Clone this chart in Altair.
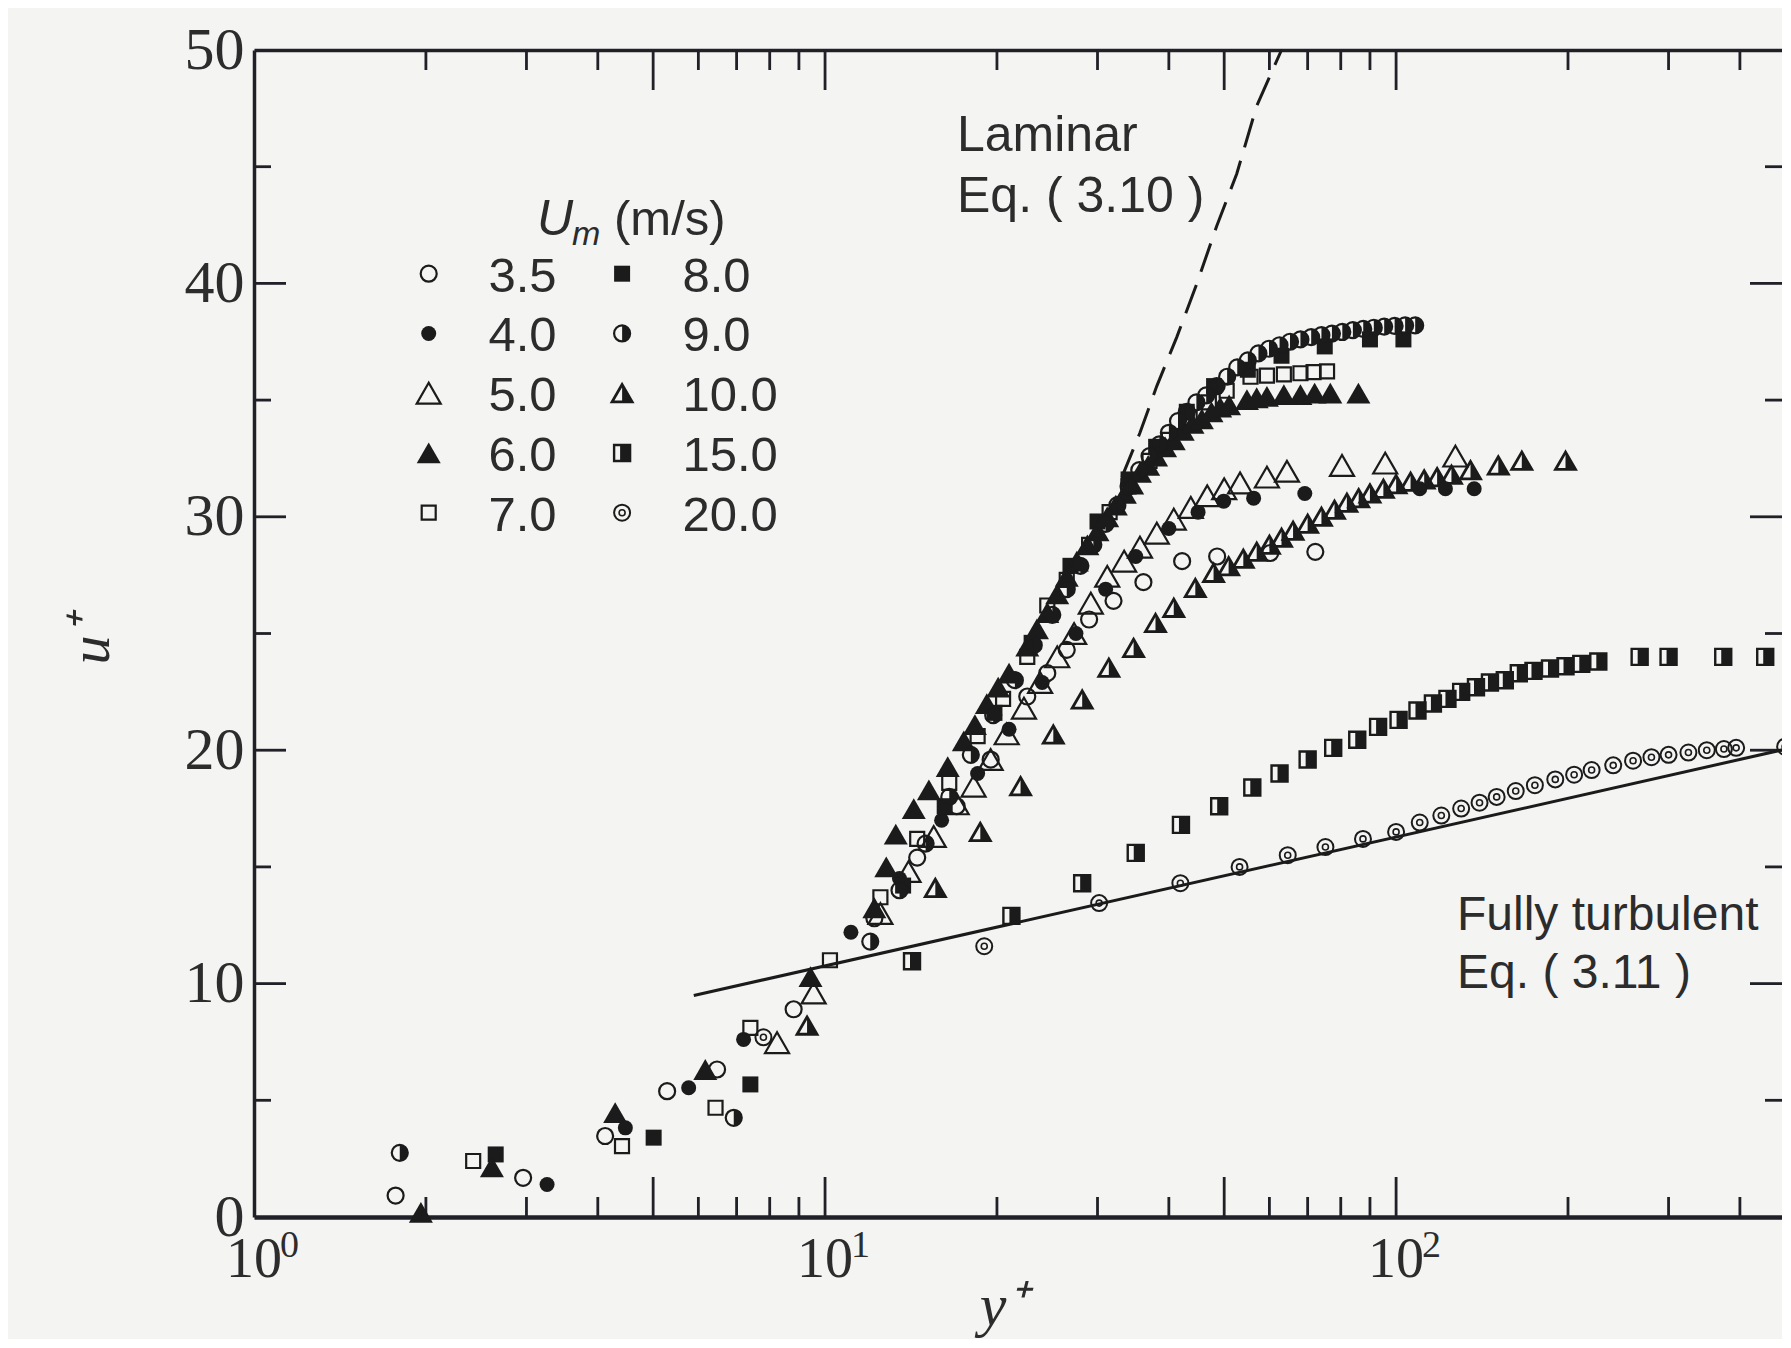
import altair as alt
import pandas as pd

# ------------------------------------------------------------------ data
um_labels = ["3.5", "4.0", "5.0", "6.0", "7.0", "8.0", "9.0", "10.0", "15.0", "20.0"]

yp_35 = [1.77, 2.96, 4.12, 5.29, 6.47, 8.81, 12.2, 14.5, 17.0, 19.5, 22.6, 24.5, 26.5, 29.0, 32.0, 36.1, 42.2, 48.6, 60.2, 72.2]
u_35 = [0.92, 1.68, 3.47, 5.39, 6.32, 8.90, 12.8, 15.4, 17.6, 19.6, 22.3, 23.3, 24.3, 25.6, 26.4, 27.2, 28.1, 28.3, 28.45, 28.5]

yp_40 = [3.26, 4.47, 5.77, 7.20, 11.1, 13.5, 16.0, 18.5, 21.0, 24.0, 27.5, 31.0, 35.0, 40.0, 45.0, 49.9, 56.3, 69.2, 110, 122, 137]
u_40 = [1.39, 3.82, 5.54, 7.61, 12.2, 14.5, 17.0, 19.0, 20.9, 22.9, 25.0, 26.9, 28.3, 29.5, 30.2, 30.67, 30.8, 31.0, 31.2, 31.2, 31.2]

yp_50 = [8.24, 9.55, 12.5, 14.0, 15.5, 17.0, 18.2, 19.5, 20.8, 22.3, 23.8, 25.5, 27.3, 29.2, 31.2, 33.4, 35.6, 38.1, 40.8, 43.7, 46.7, 50.0, 53.3, 59.4, 64.4, 80.4, 95.7, 127]
u_50 = [7.47, 9.6, 13.0, 14.8, 16.3, 17.7, 18.46, 19.6, 20.7, 21.8, 22.9, 24.0, 25.0, 26.3, 27.45, 28.1, 28.7, 29.3, 29.9, 30.4, 30.9, 31.2, 31.45, 31.7, 31.95, 32.2, 32.3, 32.6]

yp_60 = [1.96, 2.61, 4.29, 6.17, 9.43, 12.2, 12.8, 13.3, 14.3, 15.2, 16.4, 17.5, 18.3, 19.2, 20.1, 21.0, 22.6, 23.5, 24.5, 25.5,
         26.5, 27.6, 28.8, 30.0, 31.2, 32.3, 33.5, 34.5, 35.6, 36.8, 38.0, 39.4, 40.8, 42.3, 44.0, 45.7, 47.5, 49.2, 51.0, 54.8,
         57.0, 59.4, 63.6, 68.0, 72.0, 76.7, 85.9]
u_60 = [0.2, 2.15, 4.47, 6.32, 10.3, 13.25, 15.0, 16.4, 17.5, 18.3, 19.3, 20.4, 21.1, 22.0, 22.7, 23.3, 24.46, 25.2, 25.9, 26.7,
        27.45, 28.1, 28.8, 29.4, 30.0, 30.5, 31.0, 31.4, 31.9, 32.2, 32.6, 33.0, 33.3, 33.7, 34.0, 34.2, 34.5, 34.7, 34.8, 35.02,
        35.1, 35.16, 35.23, 35.23, 35.3, 35.3, 35.3]

yp_70 = [2.42, 4.41, 6.43, 7.40, 10.2, 12.5, 14.5, 16.5, 18.5, 20.5, 22.6, 24.5, 26.5, 29.0, 31.5, 34.0, 37.0, 40.0, 43.5, 47.0, 50.5, 55.6, 59.4, 63.6, 68.0, 71.7, 75.7]
u_70 = [2.40, 3.04, 4.68, 8.10, 11.0, 13.7, 16.2, 18.6, 20.6, 22.2, 24.0, 26.2, 27.3, 28.8, 30.2, 31.3, 32.4, 33.3, 34.2, 34.9, 35.4, 36.0, 36.05, 36.1, 36.15, 36.2, 36.23]

yp_80 = [2.65, 5.01, 7.40, 13.7, 16.2, 19.8, 23.0, 26.9, 30.0, 34.0, 38.0, 43.0, 48.0, 55.0, 63.0, 75.0, 90.0, 103]
u_80 = [2.68, 3.40, 5.68, 14.2, 17.6, 21.6, 24.6, 27.9, 29.8, 31.6, 33.0, 34.5, 35.6, 36.3, 36.9, 37.3, 37.6, 37.6]

yp_90 = [1.80, 6.92, 12.0, 13.5, 15.0, 16.5, 18.0, 19.7, 21.5, 23.2, 25.0, 26.5, 28.0, 29.5, 31.0, 32.5, 34.0, 35.5, 37.0, 38.5,
         40.0, 41.5, 43.0, 44.7, 46.5, 48.5, 50.6, 52.7, 55.0, 57.4, 59.9, 62.5, 65.2, 68.0, 71.0, 74.0, 77.2, 80.5, 84.0, 87.6,
         91.4, 95.3, 99.4, 103.7, 108]
u_90 = [2.75, 4.25, 11.8, 14.0, 16.0, 18.0, 19.8, 21.5, 23.0, 24.5, 25.8, 26.9, 27.9, 28.8, 29.7, 30.5, 31.3, 32.0, 32.6, 33.1,
        33.6, 34.1, 34.5, 34.9, 35.2, 35.6, 36.0, 36.4, 36.7, 37.0, 37.2, 37.35, 37.5, 37.6, 37.7, 37.78, 37.85, 37.92, 38.0, 38.05,
        38.1, 38.15, 38.18, 38.2, 38.2]

yp_100 = [9.3, 15.6, 18.7, 22.0, 25.1, 28.2, 31.4, 34.7, 37.9, 40.8, 44.5, 47.9, 50.9, 54, 57, 60, 63, 66, 70, 74,
          78, 82, 86, 90, 95, 100, 106, 112, 118, 125, 135, 151, 166, 198]
u_100 = [8.2, 14.1, 16.5, 18.46, 20.67, 22.17, 23.53, 24.38, 25.45, 26.1, 26.95, 27.6, 27.88, 28.2, 28.5, 28.8, 29.1, 29.4, 29.7, 30.0,
         30.3, 30.6, 30.8, 31.0, 31.2, 31.4, 31.5, 31.6, 31.7, 31.8, 32.0, 32.2, 32.4, 32.4]

yp_150 = [14.2, 21.2, 28.2, 35.0, 42.0, 49.0, 56.0, 62.5, 70.0, 77.6, 85.5, 93.0, 101, 109, 116, 123, 130, 138, 146, 155,
          164, 174, 186, 198, 211, 226, 267, 300, 374, 443]
u_150 = [10.96, 12.9, 14.3, 15.6, 16.8, 17.6, 18.4, 19.0, 19.6, 20.1, 20.45, 21.0, 21.3, 21.7, 22.0, 22.2, 22.5, 22.7, 22.9, 23.0,
         23.3, 23.4, 23.5, 23.6, 23.7, 23.8, 24.0, 24.0, 24.0, 24.0]

yp_200 = [7.8, 19.0, 30.2, 41.9, 53.2, 64.6, 75.2, 87.5, 100, 110, 120, 130, 140, 150, 162, 175, 190, 205, 220, 240,
          260, 280, 300, 325, 350, 375, 394, 480]
u_200 = [7.7, 11.6, 13.45, 14.3, 15.0, 15.5, 15.85, 16.2, 16.5, 16.9, 17.2, 17.5, 17.75, 18.0, 18.25, 18.5, 18.75, 18.95, 19.15, 19.35,
         19.55, 19.7, 19.8, 19.9, 20.0, 20.05, 20.1, 20.15]

laminar_yp = [33.1, 35.6, 38.1, 41.3, 44.8, 48.5, 52.6, 57.0, 63.0]
laminar_u = [31.7, 33.6, 35.6, 37.7, 40.0, 42.45, 44.7, 47.6, 50.0]

turb_yp = [5.89, 492.0]
turb_u = [9.49, 20.1]

x_ticks_minor = [2, 3, 4, 6, 7, 8, 9, 20, 30, 40, 60, 70, 80, 90, 200, 300, 400]
x_ticks_major = [5, 10, 50, 100]
u_ticks_minor = [5, 15, 25, 35, 45]
u_ticks_major = [10, 20, 30, 40]
x_label_values = [1, 10, 100]
x_label_base = ["10", "10", "10"]
x_label_exp = ["0", "1", "2"]
u_label_values = [0, 10, 20, 30, 40, 50]

legend_title = ["U", "m", "(m/s)"]
annotations = ["Laminar", "Eq. ( 3.10 )", "Fully turbulent", "Eq. ( 3.11 )"]
axis_titles = ["y\u207a", "u\u207a"]

series_yp = dict(zip(um_labels, [yp_35, yp_40, yp_50, yp_60, yp_70, yp_80, yp_90, yp_100, yp_150, yp_200]))
series_u = dict(zip(um_labels, [u_35, u_40, u_50, u_60, u_70, u_80, u_90, u_100, u_150, u_200]))

# ------------------------------------------------------------------ layout / style
W, H = 1528, 1167
INK = "#1b1b1b"
AX = "#202028"
TXT = "#2c2c2c"
SANS = "Liberation Sans"
SERIF = "Liberation Serif"

xs = alt.Scale(type="log", domain=[1, 474], nice=False)
ys = alt.Scale(domain=[0, 50], nice=False, zero=False)

HALF_CIRCLE = "M0,-1A1,1 0 0,1 0,1Z"
HALF_TRI = "M0,-0.866L1,0.866L0,0.866Z"
PART_SQ = "M-0.25,-1L1,-1L1,1L-0.25,1Z"

STY = {
    "3.5": [dict(shape="circle", size=256, filled=False, sw=2.2)],
    "4.0": [dict(shape="circle", size=225, filled=True, sw=0)],
    "5.0": [dict(shape="triangle-up", size=576, filled=False, sw=2.2)],
    "6.0": [dict(shape="triangle-up", size=576, filled=True, sw=0)],
    "7.0": [dict(shape="square", size=196, filled=False, sw=2.2)],
    "8.0": [dict(shape="square", size=256, filled=True, sw=0)],
    "9.0": [dict(shape="circle", size=256, filled=False, sw=2.2),
            dict(shape=HALF_CIRCLE, size=256, filled=True, sw=0)],
    "10.0": [dict(shape="triangle-up", size=400, filled=False, sw=2.8),
             dict(shape=HALF_TRI, size=400, filled=True, sw=0)],
    "15.0": [dict(shape="square", size=256, filled=False, sw=2.4),
             dict(shape=PART_SQ, size=256, filled=True, sw=0)],
    "20.0": [dict(shape="circle", size=256, filled=False, sw=2.0),
             dict(shape="circle", size=36, filled=False, sw=1.6)],
}


def marker_layers(df, x, y, key):
    out = []
    for st in STY[key]:
        props = dict(shape=st["shape"], size=st["size"], filled=st["filled"], color=INK, opacity=1)
        if not st["filled"]:
            props["strokeWidth"] = st["sw"]
        out.append(alt.Chart(df).mark_point(**props).encode(x=x, y=y))
    return out


def text_layer(txt, x, y, size, font=SANS, style="normal", align="left", angle=0, baseline="alphabetic"):
    df = pd.DataFrame({"t": [txt]})
    return alt.Chart(df).mark_text(
        align=align, baseline=baseline, font=font, fontSize=size, fontStyle=style,
        color=TXT, angle=angle,
    ).encode(x=alt.value(x), y=alt.value(y), text="t:N")


layers = []

# ---- axes: frame lines + y labels (drawn first)
bottom_axis = alt.Axis(orient="bottom", labels=False, ticks=False, domain=True, domainColor=AX,
                       domainWidth=4.5, grid=False, title=None)
top_axis = alt.Axis(orient="top", labels=False, ticks=False, domain=True, domainColor=AX,
                    domainWidth=3.5, grid=False, title=None)
left_axis = alt.Axis(orient="left", values=u_label_values, format="d", labelFont=SERIF,
                     labelFontSize=60, labelColor=TXT, labelPadding=10, labelFlush=False,
                     ticks=False, domain=True, domainColor=AX, domainWidth=3.5,
                     grid=False, title=None)

xmin_df = pd.DataFrame({"t": x_ticks_minor})
xmaj_df = pd.DataFrame({"t": x_ticks_major})
umin_df = pd.DataFrame({"t": u_ticks_minor})
umaj_df = pd.DataFrame({"t": u_ticks_major})

rule = dict(color=AX, strokeWidth=2.8)
layers.append(alt.Chart(xmaj_df).mark_rule(**rule).encode(
    x=alt.X("t:Q", scale=xs, axis=bottom_axis), y=alt.value(H), y2=alt.value(H - 40)))
layers.append(alt.Chart(xmin_df).mark_rule(**rule).encode(
    x=alt.X("t:Q", scale=xs, axis=None), y=alt.value(H), y2=alt.value(H - 20)))
layers.append(alt.Chart(xmaj_df).mark_rule(**rule).encode(
    x=alt.X("t:Q", scale=xs, axis=top_axis), y=alt.value(0), y2=alt.value(40)))
layers.append(alt.Chart(xmin_df).mark_rule(**rule).encode(
    x=alt.X("t:Q", scale=xs, axis=None), y=alt.value(0), y2=alt.value(20)))
layers.append(alt.Chart(umaj_df).mark_rule(**rule).encode(
    y=alt.Y("t:Q", scale=ys, axis=left_axis), x=alt.value(0), x2=alt.value(32)))
layers.append(alt.Chart(umin_df).mark_rule(**rule).encode(
    y=alt.Y("t:Q", scale=ys, axis=None), x=alt.value(0), x2=alt.value(17)))
layers.append(alt.Chart(umaj_df).mark_rule(**rule).encode(
    y=alt.Y("t:Q", scale=ys, axis=None), x=alt.value(W), x2=alt.value(W - 32)))
layers.append(alt.Chart(umin_df).mark_rule(**rule).encode(
    y=alt.Y("t:Q", scale=ys, axis=None), x=alt.value(W), x2=alt.value(W - 17)))

# x tick labels as 10 with a raised exponent
xl_df = pd.DataFrame({"v": x_label_values, "base": x_label_base, "exp": x_label_exp})
layers.append(alt.Chart(xl_df).mark_text(align="center", baseline="alphabetic", font=SERIF,
                                         fontSize=56, color=TXT).encode(
    x=alt.X("v:Q", scale=xs, axis=None), y=alt.value(H + 60), text="base:N"))
layers.append(alt.Chart(xl_df).mark_text(align="left", baseline="alphabetic", font=SERIF,
                                         fontSize=38, color=TXT, dx=26).encode(
    x=alt.X("v:Q", scale=xs, axis=None), y=alt.value(H + 40), text="exp:N"))

# ---- lines
lam_df = pd.DataFrame({"yp": laminar_yp, "u": laminar_u})
layers.append(alt.Chart(lam_df).mark_line(color=INK, strokeWidth=3, strokeDash=[30, 14]).encode(
    x=alt.X("yp:Q", scale=xs, axis=None), y=alt.Y("u:Q", scale=ys, axis=None)))
turb_df = pd.DataFrame({"yp": turb_yp, "u": turb_u})
layers.append(alt.Chart(turb_df).mark_line(color=INK, strokeWidth=3).encode(
    x=alt.X("yp:Q", scale=xs, axis=None), y=alt.Y("u:Q", scale=ys, axis=None)))

# ---- data markers
order = ["20.0", "15.0", "10.0", "3.5", "5.0", "4.0", "7.0", "8.0", "6.0", "9.0"]
for key in order:
    df = pd.DataFrame({"yp": series_yp[key], "u": series_u[key]})
    layers += marker_layers(df, alt.X("yp:Q", scale=xs, axis=None), alt.Y("u:Q", scale=ys, axis=None), key)

# ---- legend (two columns, column-major)
LEG_MX = [174.7, 368.1]
LEG_TX = [234.4, 428.4]
LEG_Y0, LEG_DY = 223.7, 59.75
for i, key in enumerate(um_labels):
    col, row = divmod(i, 5)
    ldf = pd.DataFrame({"mx": [LEG_MX[col]], "my": [LEG_Y0 + LEG_DY * row],
                        "tx": [LEG_TX[col]], "ty": [LEG_Y0 + LEG_DY * row + 18], "lab": [key]})
    layers += marker_layers(ldf, alt.X("mx:Q", scale=None, axis=None),
                            alt.Y("my:Q", scale=None, axis=None), key)
    layers.append(alt.Chart(ldf).mark_text(align="left", baseline="alphabetic", font=SANS,
                                           fontSize=49, color=TXT).encode(
        x=alt.X("tx:Q", scale=None, axis=None), y=alt.Y("ty:Q", scale=None, axis=None), text="lab:N"))

layers.append(text_layer(legend_title[0], 283, 185, 50, style="italic"))
layers.append(text_layer(legend_title[1], 318, 195, 34, style="italic"))
layers.append(text_layer(legend_title[2], 360, 185, 49))

# ---- annotations
layers.append(text_layer(annotations[0], 703, 101, 50))
layers.append(text_layer(annotations[1], 703, 162, 50))
layers.append(text_layer(annotations[2], 1203, 880, 48))
layers.append(text_layer(annotations[3], 1203, 938, 48))

# ---- axis titles
layers.append(text_layer(axis_titles[0], 749, 1275, 60, font=SERIF, style="italic", align="center"))
layers.append(text_layer(axis_titles[1], -162, 590, 58, font=SERIF, style="italic", align="center",
                         angle=270, baseline="middle"))

chart = alt.layer(*layers).resolve_axis(x="independent", y="independent").properties(
    width=W, height=H,
    padding={"left": 246, "top": 42, "right": 0, "bottom": 122},
    autosize=alt.AutoSizeParams(type="none"),
    background="#f4f4f3",
).configure_view(strokeWidth=0)

chart.save("out.html", embed_options={"renderer": "svg", "actions": False})
